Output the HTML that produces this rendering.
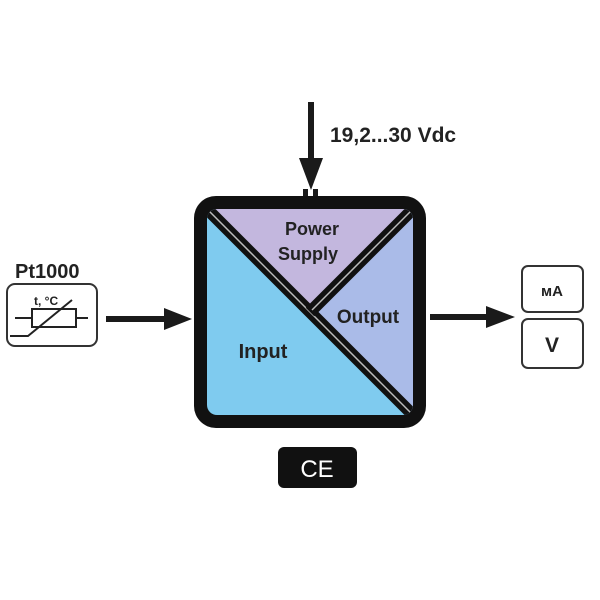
<!DOCTYPE html>
<html><head><style>body{margin:0;background:#fff}svg{display:block}</style></head><body>
<svg width="600" height="600" viewBox="0 0 600 600" xmlns="http://www.w3.org/2000/svg" font-family="Liberation Sans, sans-serif" font-weight="bold">
<defs><clipPath id="c"><rect x="207" y="209" width="206" height="206" rx="10"/></clipPath></defs>
<line x1="311" y1="102" x2="311" y2="162" stroke="#1a1a1a" stroke-width="6"/>
<polygon points="299,158 323,158 311,190" fill="#1a1a1a"/>
<rect x="303" y="189" width="5" height="9" fill="#1a1a1a"/><rect x="313" y="189" width="5" height="9" fill="#1a1a1a"/>
<text x="330" y="142" font-size="21" fill="#222">19,2...30 Vdc</text>
<rect x="194" y="196" width="232" height="232" rx="22" fill="#111"/>
<g clip-path="url(#c)">
<rect x="207" y="209" width="206" height="206" fill="#7fcbef"/>
<polygon points="207,209 413,209 310,312" fill="#c3b7de"/>
<polygon points="413,209 413,415 310,312" fill="#aabbe8"/>
<line x1="200" y1="202" x2="420" y2="422" stroke="#111" stroke-width="12"/>
<line x1="200" y1="202" x2="420" y2="422" stroke="#bbb" stroke-width="1.5"/>
<line x1="420" y1="202" x2="310" y2="312" stroke="#111" stroke-width="12"/>
<line x1="420" y1="202" x2="312" y2="310" stroke="#bbb" stroke-width="1.5"/>
</g>
<text x="312" y="235" font-size="18" fill="#222" text-anchor="middle">Power</text>
<text x="308" y="260" font-size="18" fill="#222" text-anchor="middle">Supply</text>
<text x="368" y="323" font-size="19" fill="#222" text-anchor="middle">Output</text>
<text x="263" y="358" font-size="20" fill="#222" text-anchor="middle">Input</text>
<text x="15" y="278" font-size="20" fill="#222">Pt1000</text>
<rect x="7" y="284" width="90" height="62" rx="8" fill="none" stroke="#333" stroke-width="2"/>
<text x="34" y="305" font-size="12" fill="#222">t, °C</text>
<line x1="15" y1="318" x2="32" y2="318" stroke="#222" stroke-width="2"/>
<rect x="32" y="309" width="44" height="18" fill="none" stroke="#222" stroke-width="2"/>
<line x1="76" y1="318" x2="88" y2="318" stroke="#222" stroke-width="2"/>
<polyline points="10,336 28,336 72,300" fill="none" stroke="#222" stroke-width="2"/>
<line x1="106" y1="319" x2="168" y2="319" stroke="#1a1a1a" stroke-width="6"/>
<polygon points="164,308 192,319 164,330" fill="#1a1a1a"/>
<line x1="430" y1="317" x2="490" y2="317" stroke="#1a1a1a" stroke-width="6"/>
<polygon points="486,306 515,317 486,328" fill="#1a1a1a"/>
<rect x="522" y="266" width="61" height="46" rx="6" fill="#fff" stroke="#333" stroke-width="2"/>
<text x="552" y="296" font-size="15" fill="#222" text-anchor="middle">мA</text>
<rect x="522" y="319" width="61" height="49" rx="6" fill="#fff" stroke="#333" stroke-width="2"/>
<text x="552" y="352" font-size="21" fill="#222" text-anchor="middle">V</text>
<rect x="278" y="447" width="79" height="41" rx="6" fill="#111"/>
<text x="317" y="477" font-size="24" fill="#fff" text-anchor="middle" font-weight="normal">CE</text>
</svg>
</body></html>
